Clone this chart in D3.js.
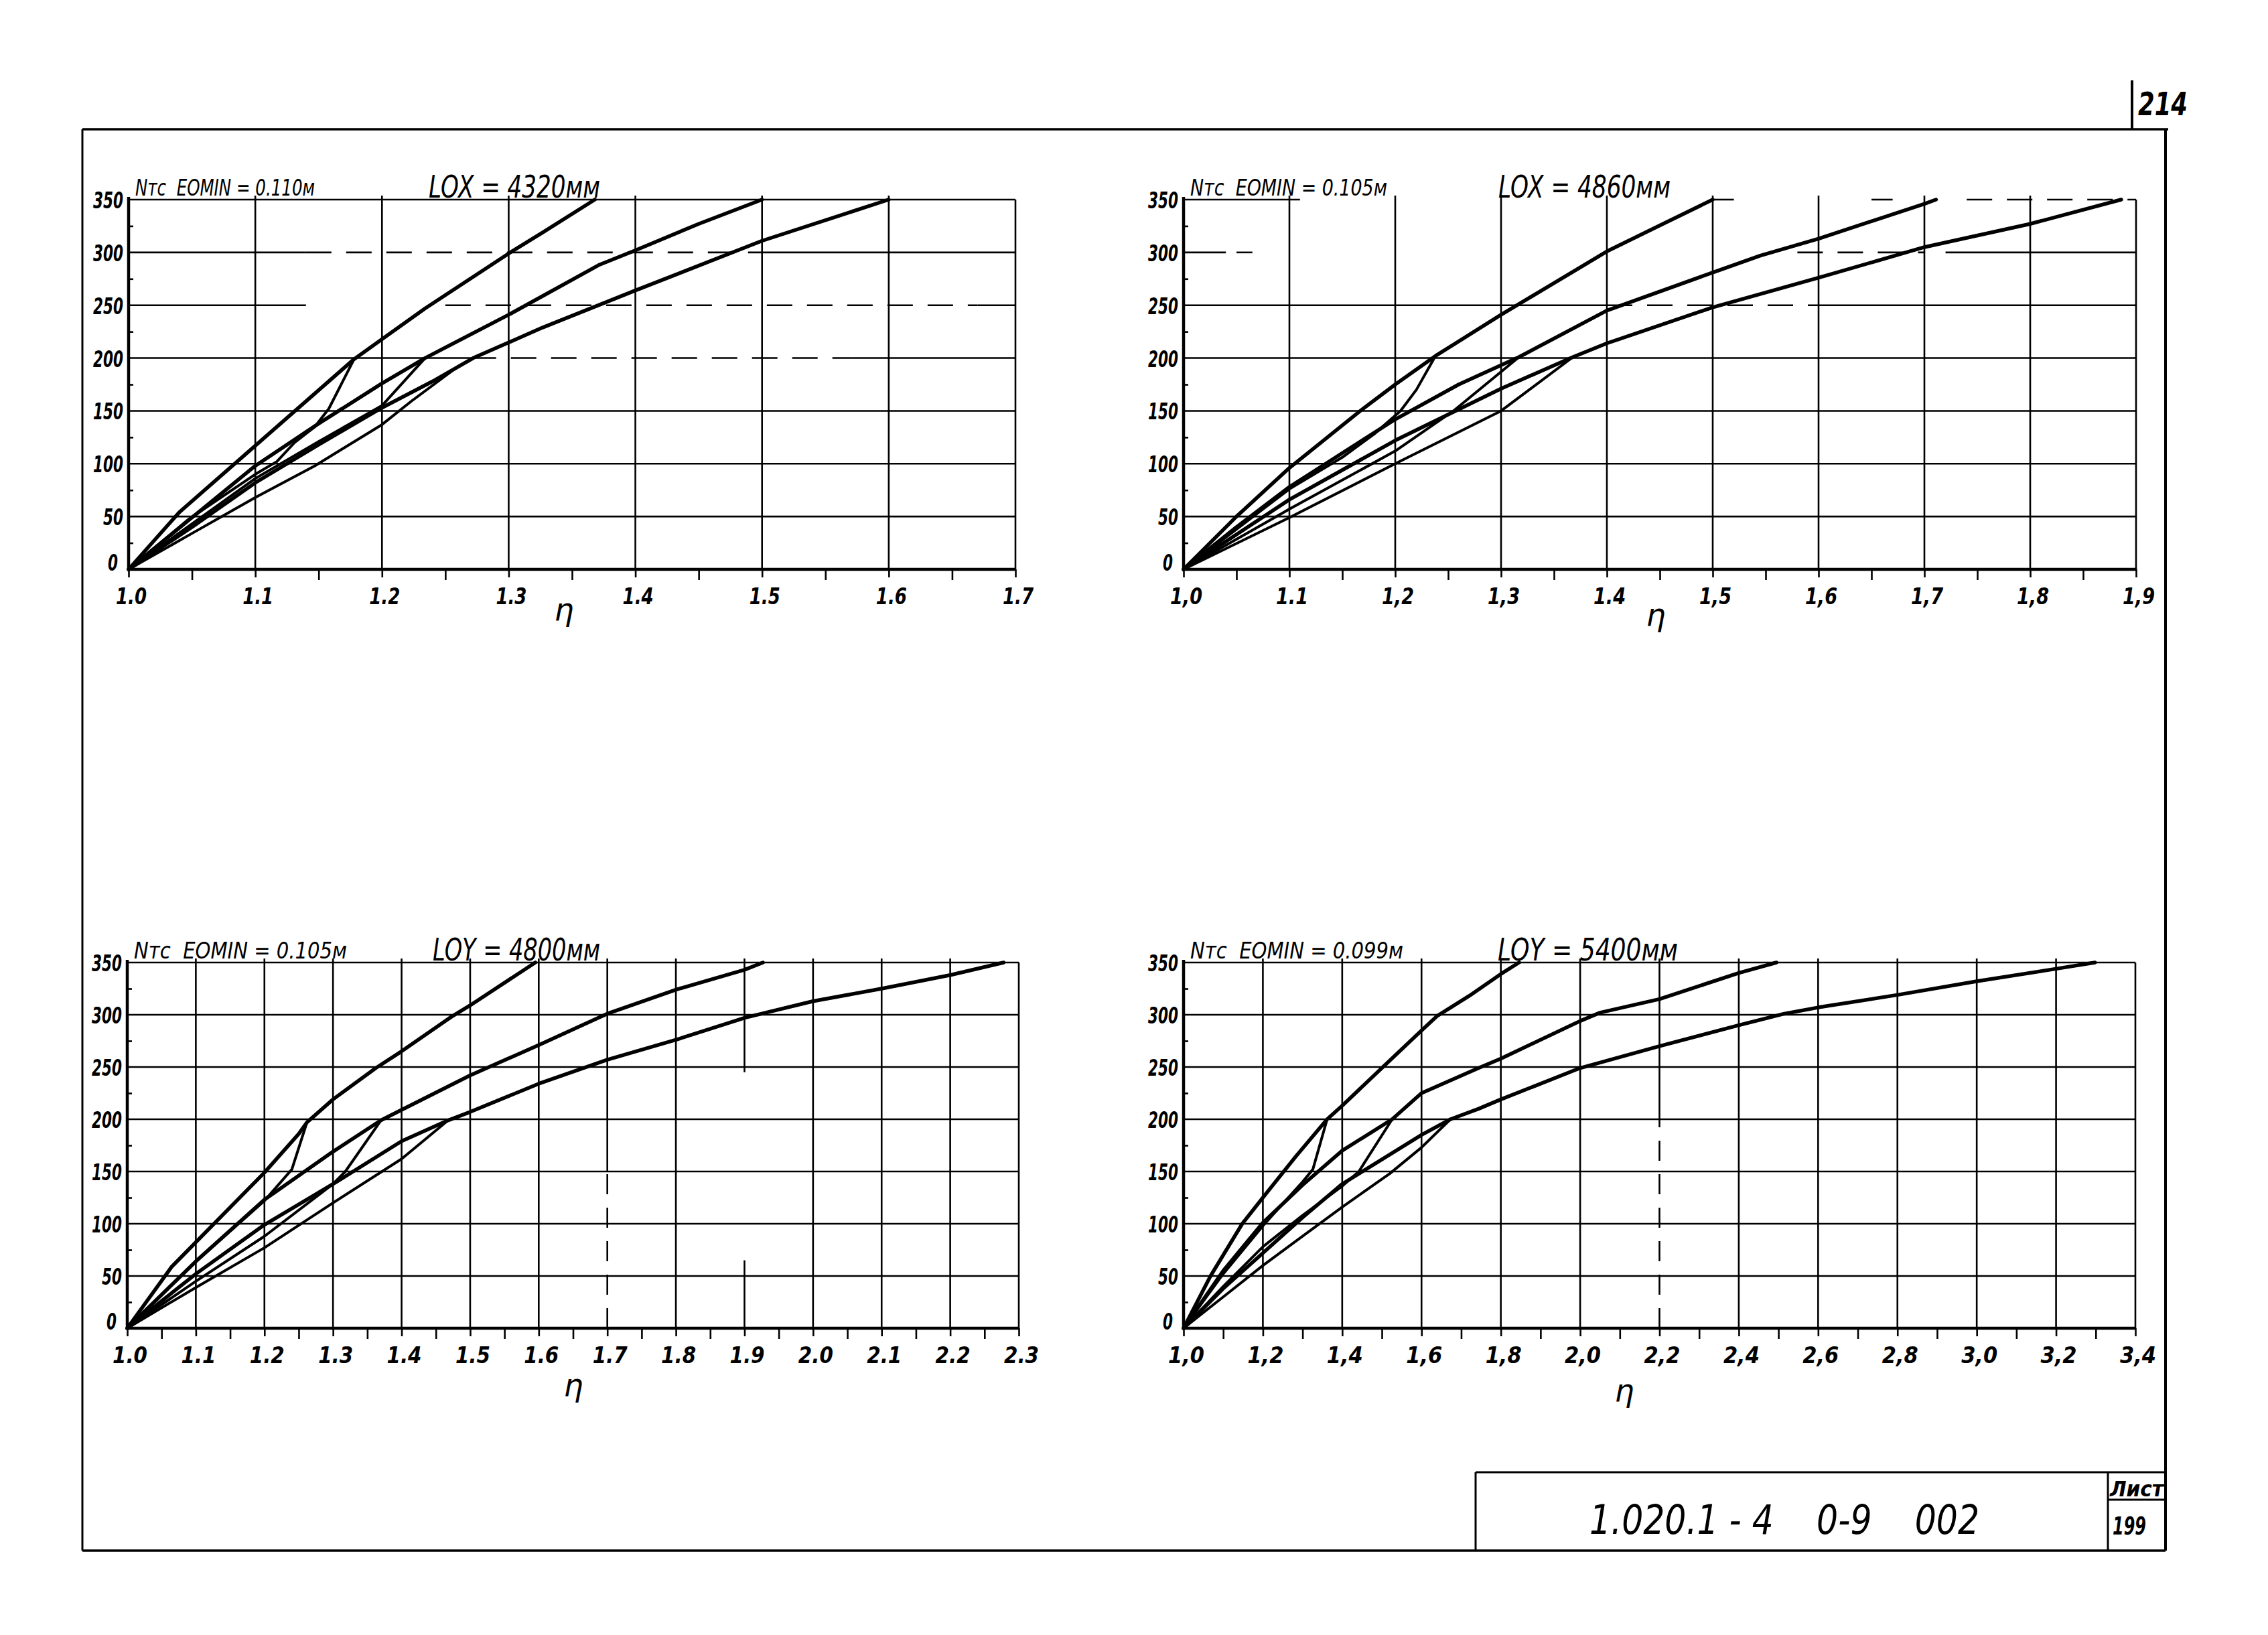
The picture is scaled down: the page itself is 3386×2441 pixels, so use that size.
<!DOCTYPE html>
<html><head><meta charset="utf-8">
<script src="https://cdn.jsdelivr.net/npm/d3@7"></script>
<style>
html,body{margin:0;padding:0;background:#fff;}
svg{display:block;background:#fff;}
text{font-family:"DejaVu Sans",sans-serif;font-style:italic;fill:#000;white-space:pre;}
</style></head><body>
<svg id="chart" width="3386" height="2441"></svg>
<script>
// ---------------- DATA ----------------
const nTicks  = [0, 50, 100, 150, 200, 250, 300, 350];
const nLabels = ["0", "50", "100", "150", "200", "250", "300", "350"];
const nMinor  = [25, 75, 125, 175, 225, 275, 325];

const p1EtaTicks  = [1.0, 1.1, 1.2, 1.3, 1.4, 1.5, 1.6, 1.7];
const p1EtaLabels = ["1.0", "1.1", "1.2", "1.3", "1.4", "1.5", "1.6", "1.7"];
const p1EtaMinor  = [1.05, 1.15, 1.25, 1.35, 1.45, 1.55, 1.65];

const p2EtaTicks  = [1.0, 1.1, 1.2, 1.3, 1.4, 1.5, 1.6, 1.7, 1.8, 1.9];
const p2EtaLabels = ["1,0", "1.1", "1,2", "1,3", "1.4", "1,5", "1,6", "1,7", "1,8", "1,9"];
const p2EtaMinor  = [1.05, 1.15, 1.25, 1.35, 1.45, 1.55, 1.65, 1.75, 1.85];

const p3EtaTicks  = [1.0, 1.1, 1.2, 1.3, 1.4, 1.5, 1.6, 1.7, 1.8, 1.9, 2.0, 2.1, 2.2, 2.3];
const p3EtaLabels = ["1.0", "1.1", "1.2", "1.3", "1.4", "1.5", "1.6", "1.7", "1.8", "1.9", "2.0", "2.1", "2.2", "2.3"];
const p3EtaMinor  = [1.05, 1.15, 1.25, 1.35, 1.45, 1.55, 1.65, 1.75, 1.85, 1.95, 2.05, 2.15, 2.25];

const p4EtaTicks  = [1.0, 1.2, 1.4, 1.6, 1.8, 2.0, 2.2, 2.4, 2.6, 2.8, 3.0, 3.2, 3.4];
const p4EtaLabels = ["1,0", "1,2", "1,4", "1,6", "1,8", "2,0", "2,2", "2,4", "2,6", "2,8", "3,0", "3,2", "3,4"];
const p4EtaMinor  = [1.1, 1.3, 1.5, 1.7, 1.9, 2.1, 2.3, 2.5, 2.7, 2.9, 3.1, 3.3];

const panelTitles  = ["Nтс  EOMIN = 0.110м", "Nтс  EOMIN = 0.105м", "Nтс  EOMIN = 0.105м", "Nтс  EOMIN = 0.099м"];
const panelLengths = ["LOX = 4320мм", "LOX = 4860мм", "LOY = 4800мм", "LOY = 5400мм"];
const etaSymbol = "η";

// panel 1 : [eta, N]
const p1UpperA = [[1,0],[1.04,54],[1.178,199],[1.234,247],[1.30,299],[1.327,319],[1.368,350]];
const p1LowerA = [[1,0],[1.047,47],[1.1,90],[1.117,102],[1.131,120],[1.147,135],[1.158,152],[1.178,199]];
const p1UpperB = [[1,0],[1.05,49],[1.1,98],[1.15,138],[1.2,176],[1.234,200],[1.3,241],[1.371,288],[1.4,302],[1.45,327],[1.5,350]];
const p1LowerB = [[1,0],[1.05,43],[1.1,86],[1.15,121],[1.2,155],[1.234,200]];
const p1UpperC = [[1,0],[1.05,40],[1.1,82],[1.15,118],[1.2,153],[1.24,178],[1.272,200],[1.327,229],[1.4,264],[1.5,311],[1.6,350]];
const p1LowerC = [[1,0],[1.05,34],[1.1,68],[1.147,98],[1.2,137],[1.223,159],[1.26,192],[1.272,200]];

// panel 2
const p2UpperA = [[1,0],[1.05,50],[1.1,96],[1.167,150],[1.2,175],[1.238,202],[1.3,241],[1.4,301],[1.453,327],[1.5,350]];
const p2LowerA = [[1,0],[1.05,38],[1.1,76],[1.15,106],[1.18,128],[1.205,150],[1.22,170],[1.238,202]];
const p2UpperB = [[1,0],[1.05,40],[1.1,78],[1.2,142],[1.26,175],[1.317,201],[1.4,245],[1.5,281],[1.545,297],[1.6,313],[1.7,346],[1.711,350]];
const p2LowerB = [[1,0],[1.1,57],[1.2,112],[1.255,150],[1.317,201]];
const p2UpperC = [[1,0],[1.1,66],[1.2,122],[1.3,171],[1.368,201],[1.4,214],[1.5,248],[1.6,276],[1.7,305],[1.8,327],[1.886,350]];
const p2LowerC = [[1,0],[1.1,49],[1.2,100],[1.3,150],[1.368,201]];

// panel 3
const p3UpperA = [[1,0],[1.065,59],[1.2,149],[1.25,186],[1.262,197],[1.3,219],[1.3625,249],[1.4,265],[1.4725,298],[1.5,309],[1.595,350]];
const p3LowerA = [[1,0],[1.1,64],[1.2,122],[1.24,152],[1.262,197]];
const p3UpperB = [[1,0],[1.1,64],[1.2,123],[1.3,169],[1.37,199],[1.4,209],[1.5,242],[1.6,271],[1.7,301],[1.8,324],[1.9,343],[1.927,350]];
const p3LowerB = [[1,0],[1.1,45],[1.2,88],[1.3,138],[1.318,150],[1.37,199]];
const p3UpperC = [[1,0],[1.1,52],[1.2,99],[1.3,138],[1.4,179],[1.468,199],[1.5,207],[1.6,234],[1.7,257],[1.8,276],[1.9,297],[2.0,313],[2.1,325],[2.2,338],[2.278,350]];
const p3LowerC = [[1,0],[1.1,39],[1.2,77],[1.3,120],[1.4,162],[1.468,199]];

// panel 4
const p4UpperA = [[1,0],[1.068,50],[1.148,100],[1.2,125],[1.282,164],[1.362,200],[1.4,213],[1.5,249],[1.6,285],[1.64,299],[1.72,318],[1.8,339],[1.846,350]];
const p4LowerA = [[1,0],[1.1,52],[1.2,98],[1.264,125],[1.3,140],[1.326,152],[1.362,200]];
const p4UpperB = [[1,0],[1.1,55],[1.2,101],[1.3,137],[1.4,170],[1.526,200],[1.6,225],[1.744,249],[1.8,258],[2.0,294],[2.05,302],[2.2,315],[2.4,340],[2.495,350]];
const p4LowerB = [[1,0],[1.1,40],[1.2,78],[1.3,108],[1.4,136],[1.442,150],[1.526,200]];
const p4UpperC = [[1,0],[1.1,38],[1.2,72],[1.3,106],[1.4,138],[1.6,185],[1.673,200],[1.744,210],[1.8,219],[2.0,249],[2.2,270],[2.4,290],[2.515,301],[2.6,307],[2.8,319],[3.0,332],[3.2,344],[3.298,350]];
const p4LowerC = [[1,0],[1.1,30],[1.2,60],[1.3,88],[1.4,116],[1.52,148],[1.6,173],[1.673,200]];

// ---------------- LAYOUT / DRAW ----------------
const svg = d3.select("#chart");
svg.append("rect").attr("x",0).attr("y",0).attr("width",3386).attr("height",2441).attr("fill","#fff");

const panels = [
  {left:192, right:1516, top:298, bottom:850, ticks:p1EtaTicks, labels:p1EtaLabels, minor:p1EtaMinor,
   title:panelTitles[0], len:panelLengths[0], tX:202, tW:268, lX:640, lW:256, eta:[842,926], labW:46,
   upper:[p1UpperA,p1UpperB,p1UpperC], lower:[p1LowerA,p1LowerB,p1LowerC],
   hSeg:{300:[[1.0,1.14,0],[1.14,1.5,1],[1.5,1.7,0]], 250:[[1.0,1.14,0],[1.25,1.67,1],[1.67,1.7,0]], 200:[[1.0,1.27,0],[1.27,1.57,1],[1.57,1.7,0]]},
   vSeg:{}},
  {left:1767, right:3189, top:298, bottom:850, ticks:p2EtaTicks, labels:p2EtaLabels, minor:p2EtaMinor,
   title:panelTitles[1], len:panelLengths[1], tX:1777, tW:294, lX:2237, lW:257, eta:[2472,934], labW:48,
   upper:[p2UpperA,p2UpperB,p2UpperC], lower:[p2LowerA,p2LowerB,p2LowerC],
   hSeg:{350:[[1.0,1.11,0],[1.5,1.52,0],[1.65,1.67,0],[1.74,1.9,1]], 300:[[1.0,1.04,0],[1.05,1.065,0],[1.58,1.7,1],[1.72,1.9,0]], 250:[[1.0,1.4,0],[1.4,1.6,1],[1.6,1.9,0]]},
   vSeg:{}},
  {left:190, right:1521, top:1437, bottom:1983, ticks:p3EtaTicks, labels:p3EtaLabels, minor:p3EtaMinor,
   title:panelTitles[2], len:panelLengths[2], tX:200, tW:318, lX:646, lW:250, eta:[856,2084], labW:52,
   upper:[p3UpperA,p3UpperB,p3UpperC], lower:[p3LowerA,p3LowerB,p3LowerC],
   hSeg:{},
   vSeg:{1.9:[[245,350,0],[0,65,0]], 1.7:[[150,350,0],[0,150,1]]}},
  {left:1767, right:3188, top:1437, bottom:1983, ticks:p4EtaTicks, labels:p4EtaLabels, minor:p4EtaMinor,
   title:panelTitles[3], len:panelLengths[3], tX:1777, tW:318, lX:2236, lW:269, eta:[2425,2092], labW:54,
   upper:[p4UpperA,p4UpperB,p4UpperC], lower:[p4LowerA,p4LowerB,p4LowerC],
   hSeg:{},
   vSeg:{2.2:[[200,350,0],[0,200,1]]}}
];

function drawPanel(P){
  const dom = [P.ticks[0], P.ticks[P.ticks.length-1]];
  const x = d3.scaleLinear().domain(dom).range([P.left, P.right]);
  const y = d3.scaleLinear().domain([0,350]).range([P.bottom, P.top]);
  const g = svg.append("g");

  // horizontal grid
  nTicks.forEach(v => {
    if (v === 0) return;
    const segs = P.hSeg[v] || [[dom[0], dom[1], 0]];
    segs.forEach(s => {
      g.append("line").attr("x1", x(s[0])).attr("x2", x(s[1]))
        .attr("y1", y(v)).attr("y2", y(v))
        .attr("stroke","#000").attr("stroke-width",2.6)
        .attr("stroke-dasharray", s[2] ? "38,22" : null);
    });
  });
  // vertical grid
  P.ticks.forEach(v => {
    if (v === dom[0]) return;
    const segs = P.vSeg[v] || [[0,350,0]];
    segs.forEach(s => {
      g.append("line").attr("x1", x(v)).attr("x2", x(v))
        .attr("y1", y(s[0])).attr("y2", y(s[1]) - (s[1]===350 && v!==dom[1] ? 6 : 0))
        .attr("stroke","#000").attr("stroke-width",2.6)
        .attr("stroke-dasharray", s[2] ? "30,20" : null);
    });
  });

  // minor x ticks (axis)
  const minorAxis = d3.axisBottom(x).tickValues(P.minor).tickSize(16).tickFormat("");
  const ma = g.append("g").attr("transform", `translate(0,${P.bottom})`).call(minorAxis);
  ma.select(".domain").remove();
  ma.selectAll(".tick line").attr("stroke","#000").attr("stroke-width",2.6);
  // major x ticks
  const majorAxis = d3.axisBottom(x).tickValues(P.ticks).tickSize(12).tickFormat("");
  const mj = g.append("g").attr("transform", `translate(0,${P.bottom})`).call(majorAxis);
  mj.select(".domain").remove();
  mj.selectAll(".tick line").attr("stroke","#000").attr("stroke-width",2.6);
  // minor y ticks
  const yMinorAxis = d3.axisLeft(y).tickValues(nMinor).tickSize(-7).tickFormat("");
  const ym = g.append("g").attr("transform", `translate(${P.left},0)`).call(yMinorAxis);
  ym.select(".domain").remove();
  ym.selectAll(".tick line").attr("stroke","#000").attr("stroke-width",2.6);

  // axes (thick)
  g.append("line").attr("x1",P.left).attr("x2",P.left).attr("y1",y(350)-4).attr("y2",y(0))
    .attr("stroke","#000").attr("stroke-width",4.5);
  g.append("line").attr("x1",P.left).attr("x2",x(dom[1])).attr("y1",y(0)).attr("y2",y(0))
    .attr("stroke","#000").attr("stroke-width",4.5);

  // y labels
  g.selectAll("text.ny").data(nTicks).join("text").attr("class","ny")
    .attr("x", d => P.left - 8 - (d===0 ? 8 : 0)).attr("y", d => y(d) + (d===0 ? 2 : 13))
    .attr("text-anchor","end").attr("font-size",33).style("font-weight","bold")
    .attr("textLength", (d,i) => nLabels[i].length * 15)
    .attr("lengthAdjust","spacingAndGlyphs")
    .text((d,i) => nLabels[i]);
  // x labels
  g.selectAll("text.ex").data(P.ticks).join("text").attr("class","ex")
    .attr("x", d => x(d) + 4).attr("y", P.bottom + 52)
    .attr("text-anchor","middle").attr("font-size",33).style("font-weight","bold")
    .attr("textLength", P.labW).attr("lengthAdjust","spacingAndGlyphs")
    .text((d,i) => P.labels[i]);
  // eta label
  g.append("text").attr("x",P.eta[0]).attr("y",P.eta[1]).attr("text-anchor","middle")
    .attr("font-size",46).style("font-weight","normal").text(etaSymbol);

  // titles
  g.append("text").attr("x",P.tX).attr("y",P.top - 6).attr("font-size",33)
    .attr("textLength",P.tW).attr("lengthAdjust","spacingAndGlyphs").style("font-weight","normal")
    .text(P.title);
  g.append("text").attr("x",P.lX).attr("y",P.top - 3).attr("font-size",46)
    .attr("textLength",P.lW).attr("lengthAdjust","spacingAndGlyphs").style("font-weight","normal")
    .text(P.len);

  // curves
  const line = d3.line().x(d => x(d[0])).y(d => y(d[1])).curve(d3.curveLinear);
  g.selectAll("path.low").data(P.lower).join("path").attr("class","low")
    .attr("d", line).attr("fill","none").attr("stroke","#000").attr("stroke-width",4)
    .attr("stroke-linejoin","round").attr("stroke-linecap","round");
  g.selectAll("path.up").data(P.upper).join("path").attr("class","up")
    .attr("d", line).attr("fill","none").attr("stroke","#000").attr("stroke-width",5.5)
    .attr("stroke-linejoin","round").attr("stroke-linecap","round");
}
panels.forEach(drawPanel);

// ---------------- SHEET FRAME ----------------
const fr = svg.append("g").attr("stroke","#000").attr("fill","none");
fr.append("line").attr("x1",123).attr("x2",3237).attr("y1",193).attr("y2",193).attr("stroke-width",3.5);
fr.append("line").attr("x1",123).attr("x2",123).attr("y1",193).attr("y2",2315).attr("stroke-width",3);
fr.append("line").attr("x1",3233).attr("x2",3233).attr("y1",193).attr("y2",2315).attr("stroke-width",4);
fr.append("line").attr("x1",123).attr("x2",3233).attr("y1",2315).attr("y2",2315).attr("stroke-width",3.5);
fr.append("line").attr("x1",3183).attr("x2",3183).attr("y1",120).attr("y2",193).attr("stroke-width",4);
// title block
fr.append("line").attr("x1",2203).attr("x2",3233).attr("y1",2198).attr("y2",2198).attr("stroke-width",3);
fr.append("line").attr("x1",2203).attr("x2",2203).attr("y1",2198).attr("y2",2315).attr("stroke-width",3);
fr.append("line").attr("x1",3147).attr("x2",3147).attr("y1",2198).attr("y2",2315).attr("stroke-width",3);
fr.append("line").attr("x1",3147).attr("x2",3233).attr("y1",2239).attr("y2",2239).attr("stroke-width",3);

svg.append("text").attr("x",3192).attr("y",172).attr("font-size",48).style("font-weight","bold")
  .attr("textLength",74).attr("lengthAdjust","spacingAndGlyphs").text("214");
svg.append("text").attr("x",2664).attr("y",2290).attr("text-anchor","middle").attr("font-size",60)
  .style("font-weight","normal").attr("textLength",582).attr("lengthAdjust","spacingAndGlyphs")
  .text("1.020.1 - 4    0-9    002");
svg.append("text").attr("x",3150).attr("y",2234).attr("font-size",32).style("font-weight","bold")
  .attr("textLength",80).attr("lengthAdjust","spacingAndGlyphs").text("Лист");
svg.append("text").attr("x",3154).attr("y",2291).attr("font-size",38).style("font-weight","bold")
  .attr("textLength",50).attr("lengthAdjust","spacingAndGlyphs").text("199");
</script>
</body></html>
